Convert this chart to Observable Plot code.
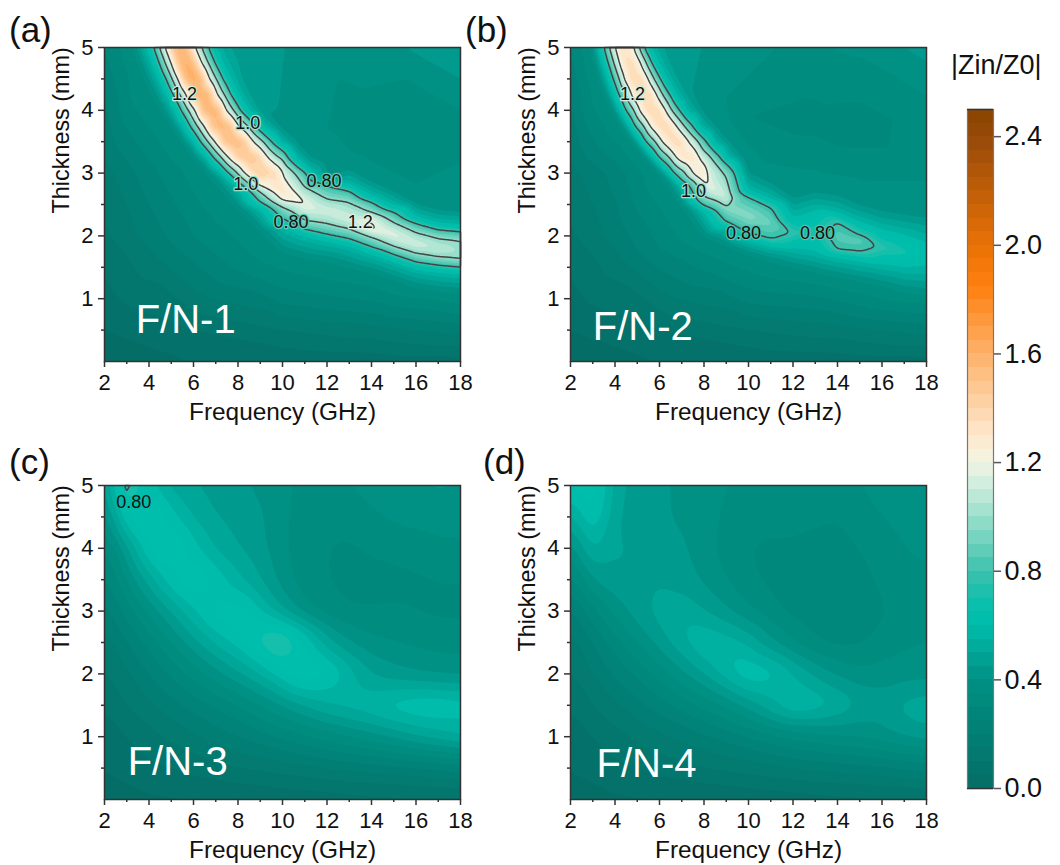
<!DOCTYPE html>
<html><head><meta charset="utf-8">
<script src="https://cdn.jsdelivr.net/npm/d3@7"></script>
<script src="https://cdn.jsdelivr.net/npm/@observablehq/plot@0.6"></script>
<style>
html,body{margin:0;padding:0;background:#fff;}
#wrap{position:relative;width:1060px;height:865px;overflow:hidden;font-family:"Liberation Sans",Arial,sans-serif;color:#111;}
#wrap>svg,#wrap>div{position:absolute;}
.letter{font-size:35px;line-height:35px;}
</style></head><body><div id="wrap"></div>
<script>
// colour map
const cmapDomain=[0,0.4,0.6,0.65,0.8,1.0,1.1,1.2,1.3,1.6,1.85,2.0,2.4,2.5];
const cmapRange=["#046e66","#009084","#00bcab","#00beac","#3dc2ad","#9adfcc","#c8ebdc","#f2f5e4","#fee8cd","#fdb169","#ff7f0e","#e87206","#96490a","#8a4400"];
const levels=d3.range(0,2.5,0.05).map(d=>+d.toFixed(2));
const barTicks=[0,0.4,0.8,1.2,1.6,2.0,2.4];
const freqTicks=[2,4,6,8,10,12,14,16,18], freqMinor=[3,5,7,9,11,13,15,17];
const thickTicks=[1,2,3,4,5], thickMinor=[0.5,1.5,2.5,3.5,4.5];

// Panel (a): across-ridge samples at constant thickness
const aRowT=[5,4.75,4.5,4.25,4,3.75,3.5,3.25,3];
const aRowF=[
[3.3,3.9,4.22,4.46,4.73,5.05,5.42,5.75,6.07,6.37,6.67,7.0,7.6],
[3.55,4.15,4.47,4.73,5.0,5.32,5.68,6.03,6.37,6.67,6.97,7.3,7.95],
[3.85,4.45,4.77,5.04,5.3,5.62,5.98,6.35,6.72,7.02,7.32,7.67,8.3],
[4.2,4.78,5.09,5.4,5.67,6.0,6.37,6.72,7.07,7.38,7.68,8.03,8.7],
[4.6,5.15,5.45,5.77,6.07,6.42,6.8,7.13,7.47,7.8,8.1,8.47,9.1],
[5.05,5.55,5.85,6.17,6.47,6.85,7.27,7.65,8.03,8.45,8.75,9.13,9.8],
[5.5,6.02,6.32,6.65,6.95,7.37,7.83,8.25,8.7,9.15,9.5,9.87,10.55],
[6.05,6.58,6.9,7.25,7.55,7.98,8.45,8.9,9.35,9.82,10.22,10.6,11.3],
[6.65,7.25,7.57,7.98,8.28,8.72,9.18,9.62,10.05,10.56,11.05,11.4,12.1]];
const aRowV=[
[.4,.6,.8,1,1.2,1.5,1.6,1.5,1.2,1,.8,.6,.5],
[.4,.6,.8,1,1.2,1.52,1.63,1.52,1.2,1,.8,.6,.5],
[.4,.6,.8,1,1.2,1.55,1.65,1.55,1.2,1,.8,.6,.48],
[.4,.6,.8,1,1.2,1.55,1.64,1.55,1.2,1,.8,.6,.47],
[.4,.6,.8,1,1.2,1.55,1.62,1.55,1.2,1,.8,.6,.46],
[.4,.6,.8,1,1.2,1.52,1.6,1.52,1.2,1,.8,.6,.46],
[.4,.6,.8,1,1.2,1.5,1.58,1.5,1.2,1,.8,.6,.45],
[.4,.6,.8,1,1.2,1.45,1.53,1.45,1.2,1,.8,.6,.44],
[.4,.6,.8,1,1.2,1.4,1.47,1.4,1.2,1,.8,.6,.42]];
// Panel (a): across-ridge samples at constant frequency
const aColF=[8,9,10,11,12,13,14,15,16,17,18];
const aColT=[
[2.45,2.76,2.86,2.99,3.12],
[2.1,2.43,2.54,2.7,2.79,2.93],
[1.75,2.15,2.27,2.46,2.56,2.72,2.96,3.23,3.36,3.47,3.75],
[1.65,2,2.1,2.24,2.48,2.52,2.78,3.02,3.13,3.4],
[1.6,1.92,2.02,2.19,2.4,2.59,2.8,2.9,3.2],
[1.5,1.85,1.95,2.11,2.27,2.54,2.72,2.82,3.1],
[1.42,1.72,1.82,1.98,2.09,2.14,2.25,2.38,2.54,2.64,2.9],
[1.3,1.6,1.7,1.83,2.02,2.22,2.38,2.48,2.75],
[1.18,1.48,1.58,1.72,1.87,2.06,2.2,2.3,2.55],
[1.12,1.43,1.53,1.66,1.79,1.97,2.1,2.2,2.45],
[1.1,1.4,1.5,1.62,1.74,1.93,2.07,2.17,2.42]];
const aColV=[
[.4,.6,.8,1,1.2],
[.4,.6,.8,1,1.2,1.42],
[.4,.6,.8,1,1.2,1.35,1.2,1,.8,.6,.42],
[.4,.6,.8,1,1.2,1.22,1,.8,.6,.42],
[.4,.6,.8,1,1.15,1,.8,.6,.42],
[.4,.6,.8,1,1.15,1,.8,.6,.42],
[.4,.6,.8,1,1.2,1.23,1.2,1,.8,.6,.42],
[.4,.6,.8,1,1.19,1,.8,.6,.42],
[.4,.6,.8,1,1.15,1,.8,.6,.42],
[.4,.6,.8,1,1.1,1,.8,.6,.42],
[.4,.6,.8,1,1.05,1,.8,.6,.42]];
// Panel (a): background samples
const aBgF=[2,6,10,14,18,2,6,10,14,18,2,6,10,14,18,2,4,2,4,2,3,2,9.5,12,15,18,11,13,16,18,14,16,18,18,6,8,4];
const aBgT=[0,0,0,0,0,.5,.5,.5,.5,.5,1,1,1,1,.85,2,2,3,3,4,4,5,5,5,5,5,4,4,4,4,3.5,3.4,3.3,2.9,2,1.5,1.5];
const aBgV=[.03,.05,.06,.07,.08,.05,.1,.15,.18,.22,.08,.18,.27,.31,.33,.14,.22,.18,.28,.24,.33,.3,.46,.42,.44,.5,.43,.38,.36,.4,.38,.36,.39,.42,.3,.31,.17];

// Panel (b)
const bRowT=[5,4.75,4.5,4.25,4,3.75,3.5,3.25,3];
const bRowF=[
[2.95,3.25,3.51,3.74,4.0,4.2,4.41,4.65,4.86,5.09,5.31,5.6,6.3],
[3.1,3.43,3.7,3.95,4.19,4.42,4.66,4.92,5.17,5.41,5.66,5.95,6.62],
[3.3,3.65,3.92,4.19,4.41,4.68,4.94,5.22,5.5,5.76,6.04,6.33,7],
[3.58,3.9,4.18,4.5,4.72,5.03,5.3,5.6,5.88,6.14,6.46,6.75,7.45],
[3.9,4.2,4.49,4.86,5.09,5.4,5.69,6,6.28,6.55,6.91,7.2,7.9],
[4.3,4.62,4.9,5.3,5.55,5.88,6.2,6.48,6.77,7.12,7.48,7.78,8.5],
[4.8,5.1,5.39,5.82,6.1,6.45,6.79,7.05,7.33,7.75,8.1,8.42,9.15],
[5.35,5.68,5.98,6.45,6.73,7.03,7.35,7.58,7.78,8.33,8.72,9.05,9.78],
[6.0,6.35,6.66,7.18,7.48,7.7,7.93,8.02,8.11,8.9,9.36,9.7,10.4]];
const bRowV=[
[.4,.6,.8,1,1.2,1.32,1.38,1.32,1.2,1,.8,.6,.48],
[.4,.6,.8,1,1.2,1.35,1.4,1.35,1.2,1,.8,.6,.47],
[.4,.6,.8,1,1.2,1.38,1.42,1.38,1.2,1,.8,.6,.46],
[.4,.6,.8,1,1.2,1.38,1.42,1.38,1.2,1,.8,.6,.45],
[.4,.6,.8,1,1.2,1.38,1.42,1.38,1.2,1,.8,.6,.44],
[.4,.6,.8,1,1.2,1.36,1.41,1.36,1.2,1,.8,.6,.44],
[.4,.6,.8,1,1.2,1.35,1.4,1.35,1.2,1,.8,.6,.44],
[.4,.6,.8,1,1.2,1.33,1.37,1.33,1.2,1,.8,.6,.43],
[.4,.6,.8,1,1.2,1.3,1.33,1.3,1.2,1,.8,.6,.42]];
const bColF=[7,8,9,10,11,12,13,14,15,16,17,18];
const bColT=[
[2.5,2.78,2.88,3.05],
[2,2.38,2.48,2.62,2.9],
[1.85,2.12,2.22,2.46,2.6,2.96,3.15,3.25,3.55],
[1.7,1.93,2.03,2.32,2.63,2.72,3],
[1.6,1.84,1.94,2.2,2.46,2.58,2.85],
[1.5,1.8,2.04,2.3,2.6],
[1.42,1.72,2.08,2.45,2.7],
[1.35,1.66,1.77,2,2.23,2.36,2.65],
[1.28,1.6,1.74,1.93,2.02,2.22,2.5],
[1.2,1.55,1.81,2.1,2.4],
[1.1,1.5,1.74,2.02,2.35],
[1.05,1.45,1.68,1.95,2.3]];
const bColV=[
[.4,.6,.8,1],
[.4,.6,.8,1,1.26],
[.4,.6,.8,1,1.12,1,.8,.6,.44],
[.4,.6,.8,.99,.8,.6,.44],
[.4,.6,.8,.92,.8,.6,.44],
[.4,.6,.79,.6,.44],
[.4,.58,.73,.58,.44],
[.4,.6,.8,.88,.8,.6,.44],
[.4,.6,.8,.88,.8,.6,.44],
[.4,.6,.78,.6,.44],
[.4,.6,.72,.6,.44],
[.4,.58,.64,.58,.44]];
const bBgF=[2,6,10,14,18,2,6,10,14,18,2,6,10,14,18,2,4,2,4,2,2.8,2,9,12,15,18,9,10,13,15,18,11,14,18,13,15,8.23,6,8,4];
const bBgT=[0,0,0,0,0,.5,.5,.5,.5,.5,1,1,1,1,.9,2,2,3,3,4,4,5,5,5,5,5,4.2,3.9,3.8,3.7,4,3.3,3.2,3,2.95,3,2.8,1.8,1.5,1.5];
const bBgV=[.03,.05,.06,.07,.08,.05,.1,.15,.18,.22,.08,.18,.27,.31,.34,.14,.22,.18,.27,.24,.33,.3,.43,.39,.41,.47,.4,.35,.33,.32,.38,.38,.37,.39,.41,.39,1.2,.3,.31,.17];

// Panels (c) and (d): regular samples
const gridF=[2,3,4,5,6,7,8,9,10,11,12,13,14,15,16,17,18];
const gridT=[5,4.5,4,3.5,3,2.5,2,1.5,1,.5,0];
const cGrid=[
[.42,.83,.62,.52,.5,.48,.46,.44,.41,.39,.39,.4,.42,.43,.45,.46,.45],
[.38,.66,.76,.62,.54,.5,.48,.46,.41,.38,.37,.37,.39,.41,.41,.42,.42],
[.32,.48,.66,.74,.62,.54,.5,.47,.41,.37,.35,.34,.36,.37,.38,.39,.39],
[.27,.4,.52,.64,.72,.64,.56,.5,.43,.37,.35,.34,.33,.33,.34,.35,.35],
[.22,.32,.41,.5,.6,.68,.7,.6,.5,.42,.37,.35,.35,.36,.35,.34,.34],
[.17,.25,.32,.4,.48,.56,.62,.72,.8,.66,.52,.45,.41,.4,.39,.38,.38],
[.14,.19,.25,.31,.37,.43,.49,.55,.64,.72,.68,.58,.5,.47,.45,.44,.43],
[.1,.15,.19,.23,.27,.31,.35,.4,.45,.5,.55,.58,.6,.64,.66,.66,.64],
[.07,.1,.13,.16,.19,.22,.25,.28,.31,.34,.37,.4,.43,.46,.5,.53,.56],
[.05,.07,.09,.1,.12,.13,.15,.16,.17,.18,.2,.21,.22,.23,.24,.25,.27],
[.03,.03,.04,.04,.04,.05,.05,.05,.06,.06,.06,.07,.07,.07,.08,.08,.08]];
const dGrid=[
[.66,.72,.52,.48,.46,.44,.42,.4,.39,.39,.39,.38,.37,.4,.42,.42,.42],
[.52,.68,.5,.48,.46,.44,.42,.39,.37,.37,.37,.36,.35,.38,.4,.41,.42],
[.4,.58,.5,.5,.48,.46,.42,.38,.35,.34,.34,.33,.33,.35,.38,.4,.41],
[.31,.46,.5,.5,.5,.48,.44,.4,.36,.34,.33,.32,.32,.33,.36,.39,.39],
[.23,.33,.42,.48,.52,.54,.5,.46,.41,.37,.33,.32,.32,.32,.34,.38,.35],
[.17,.25,.33,.4,.47,.54,.6,.58,.54,.46,.4,.35,.33,.34,.37,.39,.4],
[.14,.2,.26,.31,.37,.44,.5,.58,.66,.64,.56,.49,.44,.41,.42,.43,.43],
[.1,.15,.19,.23,.28,.32,.37,.41,.47,.54,.62,.6,.56,.5,.48,.52,.54],
[.07,.1,.13,.16,.19,.21,.24,.27,.3,.33,.36,.38,.4,.41,.43,.46,.48],
[.05,.07,.09,.1,.12,.13,.15,.16,.17,.18,.2,.21,.22,.23,.24,.25,.27],
[.03,.03,.04,.04,.04,.05,.05,.05,.06,.06,.06,.07,.07,.07,.08,.08,.08]];

// contour labels
const aLabels=[{f:5.6,t:4.25,s:"1.2",h:"#cfeee0"},{f:8.44,t:3.79,s:"1.0",h:"#9adfcc"},{f:11.87,t:2.87,s:"0.80",h:"#5fcab6"},{f:8.35,t:2.83,s:"1.0",h:"#9adfcc"},{f:10.38,t:2.21,s:"0.80",h:"#5fcab6"},{f:13.49,t:2.21,s:"1.2",h:"#e0f0e4"}];
const bLabels=[{f:4.79,t:4.25,s:"1.2",h:"#cfeee0"},{f:7.53,t:2.71,s:"1.0",h:"#9adfcc"},{f:9.78,t:2.05,s:"0.80",h:"#4fc4b0"},{f:13.1,t:2.04,s:"0.80",h:"#4fc4b0"}];
const cLabels=[{f:3.31,t:4.73,s:"0.80",h:"none"}];
const dLabels=[];

function scatter(rowT,rowF,rowV,colF,colT,colV,bgF,bgT,bgV){
  const p=[];
  rowT.forEach((t,i)=>rowF[i].forEach((f,j)=>p.push({f,t,v:rowV[i][j]})));
  colF.forEach((f,i)=>colT[i].forEach((t,j)=>p.push({f,t,v:colV[i][j]})));
  bgF.forEach((f,i)=>p.push({f,t:bgT[i],v:bgV[i]}));
  return p;
}
function gridded(g){
  const p=[];
  gridT.forEach((t,i)=>gridF.forEach((f,j)=>p.push({f,t,v:g[i][j]})));
  return p;
}
const colorOpts={type:"linear",domain:cmapDomain,range:cmapRange,interpolate:"rgb",clamp:true};
const wrap=document.getElementById("wrap");
const FONT='"Liberation Sans",Arial,sans-serif';

function panel({data,labels,name,nameF,nameT,left,top,blur,lineBlur}){
  const fig=Plot.plot({
    width:480,height:427,marginLeft:104,marginRight:20,marginTop:47,marginBottom:66,
    style:{fontFamily:FONT,background:"transparent",color:"#111",overflow:"visible"},
    x:{domain:[2,18],axis:null},y:{domain:[0,5],axis:null},color:colorOpts,
    marks:[
      Plot.contour(data,{x:"f",y:"t",fill:"v",interpolate:"barycentric",thresholds:levels,pixelSize:1,blur,stroke:"none"}),
      Plot.contour(data,{x:"f",y:"t",value:"v",interpolate:"barycentric",thresholds:[0.8,1.0,1.2],pixelSize:1,blur:lineBlur,fill:"none",stroke:"#444",strokeWidth:1.5}),
      Plot.text(labels,{x:"f",y:"t",text:"s",fontSize:18,fill:"#111",stroke:"h",strokeWidth:2.5}),
      Plot.text([name],{x:[nameF],y:[nameT],text:d=>d,fontSize:40,fill:"#fff",textAnchor:"start"}),
      Plot.frame({stroke:"#333",strokeWidth:1.5}),
      Plot.axisX({ticks:freqTicks,tickSize:6,tickPadding:7,fontSize:22,strokeWidth:1.5,stroke:"#333",label:null}),
      Plot.axisX({ticks:freqMinor,tickSize:3,tickFormat:()=>"",strokeWidth:1.5,stroke:"#333",label:null}),
      Plot.axisY({ticks:thickTicks,tickSize:6,tickPadding:5,fontSize:22,tickFormat:"d",strokeWidth:1.5,stroke:"#333",label:null}),
      Plot.axisY({ticks:thickMinor,tickSize:3,tickFormat:()=>"",strokeWidth:1.5,stroke:"#333",label:null}),
      Plot.text(["Frequency (GHz)"],{frameAnchor:"bottom",dy:58,fontSize:24.4,fill:"#111",text:d=>d}),
      Plot.text(["Thickness (mm)"],{frameAnchor:"left",dx:-43,dy:9,rotate:-90,fontSize:23.4,fill:"#111",text:d=>d})
    ]
  });
  fig.style.left=left+"px";fig.style.top=top+"px";
  wrap.appendChild(fig);
}
panel({data:scatter(aRowT,aRowF,aRowV,aColF,aColT,aColV,aBgF,aBgT,aBgV),labels:aLabels,name:"F/N-1",nameF:3.4,nameT:.65,left:0,top:0,blur:2,lineBlur:2});
panel({data:scatter(bRowT,bRowF,bRowV,bColF,bColT,bColV,bBgF,bBgT,bBgV),labels:bLabels,name:"F/N-2",nameF:3.0,nameT:.54,left:466,top:0,blur:2,lineBlur:2});
panel({data:gridded(cGrid),labels:cLabels,name:"F/N-3",nameF:3.04,nameT:.6,left:0,top:438,blur:8,lineBlur:0});
panel({data:gridded(dGrid),labels:dLabels,name:"F/N-4",nameF:3.17,nameT:.56,left:466,top:438,blur:8,lineBlur:0});

// colour bar
const bar=Plot.plot({
  width:100,height:720,marginLeft:1,marginRight:73,marginTop:10,marginBottom:31,
  style:{fontFamily:FONT,background:"transparent",color:"#111",overflow:"visible"},
  x:{domain:[0,1],axis:null},y:{domain:[0,2.5],axis:null},color:colorOpts,
  marks:[
    Plot.rect(levels,{x1:0,x2:1,y1:d=>d,y2:d=>Math.min(2.5,d+0.05),fill:d=>d+0.025,shapeRendering:"crispEdges"}),
    Plot.frame({stroke:"#777",strokeWidth:1.2}),
    Plot.ruleY([2.5,0],{stroke:"#333",strokeWidth:1.5}),
    Plot.axisY({anchor:"right",ticks:barTicks,tickFormat:".1f",tickSize:7,tickPadding:4,fontSize:27,stroke:"#555",strokeWidth:1.5,label:null})
  ]
});
bar.style.left="966px";bar.style.top="99px";
wrap.appendChild(bar);

// panel letters and colour-bar title
[["(a)",9,12],["(b)",465,12],["(c)",9,444],["(d)",483,444]].forEach(([s,x,y])=>{
  const d=document.createElement("div");d.className="letter";d.textContent=s;d.style.left=x+"px";d.style.top=y+"px";wrap.appendChild(d);
});
const ttl=document.createElement("div");ttl.textContent="|Zin/Z0|";ttl.style.cssText="left:951px;top:50px;font-size:27px;line-height:30px;white-space:nowrap;";wrap.appendChild(ttl);
</script></body></html>
